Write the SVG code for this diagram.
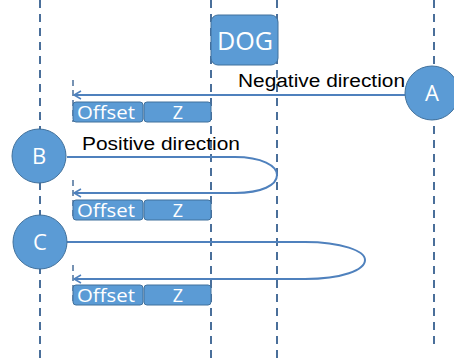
<svg xmlns="http://www.w3.org/2000/svg" width="454" height="360" viewBox="0 0 454 360">
<style>
.life{stroke:#4a6f9a;stroke-width:2;stroke-dasharray:8,6;fill:none}
.short{stroke:#4a6f9a;stroke-width:1.5;stroke-dasharray:6,4;fill:none}
.node{fill:#5b9bd5;stroke:#41719c;stroke-width:1}
.box{fill:#5b9bd5;stroke:#41719c;stroke-width:1}
.wt{fill:#fff;font-family:"Open Sans",Lato,sans-serif;text-anchor:middle}
.lbl{fill:#000;font-family:"Liberation Sans",Arial,sans-serif;font-size:18px}
.conn{stroke:#4f81bd;stroke-width:2;fill:none;marker-end:url(#arr)}
</style>
<defs>
<marker id="arr" markerWidth="10" markerHeight="10" refX="8" refY="5" orient="auto" markerUnits="userSpaceOnUse">
<polyline points="1,1 8,5 1,9" fill="none" stroke="#4f81bd" stroke-width="1.5"/>
</marker>
</defs>
<g id="lifelines">
<line class="life" x1="40" y1="0" x2="40" y2="360"/>
<line class="life" x1="211" y1="0" x2="211" y2="360"/>
<line class="life" x1="277" y1="0" x2="277" y2="360"/>
<line class="life" x1="434" y1="0" x2="434" y2="348"/>
<line class="short" x1="73" y1="80" x2="73" y2="122"/>
<line class="short" x1="73" y1="180" x2="73" y2="220"/>
<line class="short" x1="73" y1="265" x2="73" y2="305"/>
</g>
<g id="connectors">
<path class="conn" d="M405,95 H74"/>
<path class="conn" d="M67,157 H235 C262,157 277,166 277,175 C277,185 262,193 235,193 H74"/>
<path class="conn" d="M67,242 H305 C342,242 365,251 365,260 C365,270 342,279 305,279 H74"/>
</g>
<g id="dog">
<rect class="node" x="211" y="15" width="67" height="50" rx="7"/>
<text class="wt" x="245" y="50" font-size="26" textLength="56" lengthAdjust="spacingAndGlyphs">DOG</text>
</g>
<g id="nodeA">
<circle class="node" cx="432" cy="93" r="27"/>
<text class="wt" x="432" y="101" font-size="22">A</text>
</g>
<g id="nodeB">
<circle class="node" cx="39" cy="156" r="27"/>
<text class="wt" x="39" y="164" font-size="22">B</text>
</g>
<g id="nodeC">
<circle class="node" cx="40" cy="242" r="27"/>
<text class="wt" x="40" y="250" font-size="22">C</text>
</g>
<g id="labels">
<text class="lbl" x="238" y="87" textLength="167" lengthAdjust="spacingAndGlyphs">Negative direction</text>
<text class="lbl" x="82" y="150" textLength="158" lengthAdjust="spacingAndGlyphs">Positive direction</text>
</g>
<g id="fields1">
<rect class="box" x="73" y="102" width="70" height="20" rx="3"/>
<rect class="box" x="144" y="102" width="67" height="20" rx="3"/>
<text class="wt" x="106" y="119" font-size="18" textLength="58" lengthAdjust="spacingAndGlyphs">Offset</text>
<text class="wt" x="178" y="119" font-size="18">Z</text>
</g>
<g id="fields2">
<rect class="box" x="73" y="200" width="70" height="20" rx="3"/>
<rect class="box" x="144" y="200" width="67" height="20" rx="3"/>
<text class="wt" x="106" y="217" font-size="18" textLength="58" lengthAdjust="spacingAndGlyphs">Offset</text>
<text class="wt" x="178" y="217" font-size="18">Z</text>
</g>
<g id="fields3">
<rect class="box" x="73" y="285" width="70" height="20" rx="3"/>
<rect class="box" x="144" y="285" width="67" height="20" rx="3"/>
<text class="wt" x="106" y="302" font-size="18" textLength="58" lengthAdjust="spacingAndGlyphs">Offset</text>
<text class="wt" x="178" y="302" font-size="18">Z</text>
</g>
</svg>
